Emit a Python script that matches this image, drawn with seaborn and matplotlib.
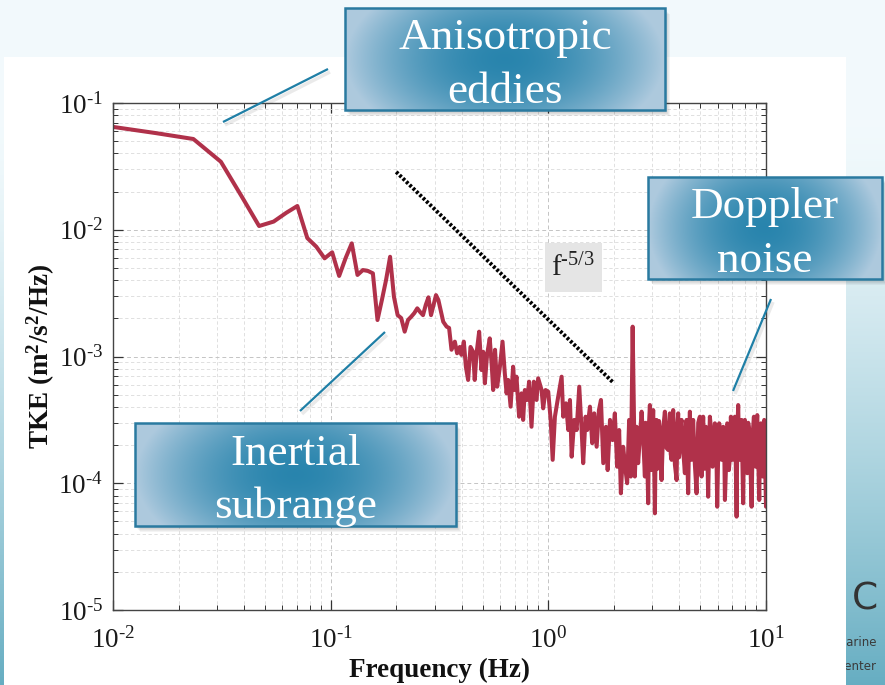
import numpy as np
import seaborn as sns
import matplotlib.pyplot as plt
from matplotlib.patches import Rectangle
from matplotlib.ticker import NullFormatter, FuncFormatter

sns.set_theme(style="ticks")
plt.rcParams['font.family'] = ['Liberation Serif', 'DejaVu Serif']
plt.rcParams['mathtext.fontset'] = 'custom'
plt.rcParams['mathtext.rm'] = 'Liberation Serif'
plt.rcParams['mathtext.it'] = 'Liberation Serif:italic'
plt.rcParams['mathtext.bf'] = 'Liberation Serif:bold'
plt.rcParams['axes.unicode_minus'] = False

# spectrum (Hz, m^2/s^2/Hz)
# low-frequency bins, one per 1/128 Hz
freq_low = [0.0078, 0.0156, 0.0234, 0.0313, 0.0391, 0.0469, 0.0547, 0.0625, 0.0703, 0.0781,
            0.0859, 0.0938, 0.1016, 0.1094, 0.1172, 0.125, 0.1328, 0.1406, 0.1484, 0.1563,
            0.1641, 0.1719, 0.1797, 0.1875, 0.1953, 0.2031, 0.2109, 0.2188, 0.2266, 0.2344,
            0.2422, 0.25, 0.2578, 0.2656, 0.2734, 0.2813, 0.2891, 0.2969, 0.3047, 0.3125]
tke_low = [0.0689, 0.058, 0.052, 0.0344, 0.0182, 0.0107, 0.0116, 0.0136, 0.0154, 0.0086,
           0.00735, 0.00595, 0.00664, 0.00432, 0.00599, 0.00781, 0.0044, 0.00481, 0.00473, 0.00453,
           0.00194, 0.00279, 0.00402, 0.00612, 0.00296, 0.00212, 0.00201, 0.00157, 0.00194, 0.00206,
           0.0022, 0.0024, 0.00224, 0.00212, 0.00255, 0.00293, 0.00212, 0.00255, 0.00305, 0.00279]

# inertial range, peaks and troughs
freq_mid = [0.329, 0.341, 0.350, 0.359, 0.372, 0.381, 0.392, 0.399, 0.409, 0.418,
            0.428, 0.439, 0.451, 0.459, 0.468, 0.481, 0.493, 0.502, 0.511, 0.523,
            0.538, 0.550, 0.558, 0.569, 0.582, 0.599, 0.616, 0.631, 0.643, 0.654,
            0.671, 0.689, 0.701, 0.714, 0.734, 0.753, 0.766, 0.780, 0.799, 0.816,
            0.837, 0.858, 0.883,
            0.898, 0.931, 0.947, 0.971, 0.999, 1.025, 1.047, 1.072, 1.110, 1.151,
            1.171, 1.205, 1.235, 1.257, 1.280, 1.315, 1.349, 1.387, 1.422, 1.446,
            1.483, 1.509, 1.553, 1.591, 1.625, 1.667, 1.708, 1.745, 1.788, 1.840,
            1.873, 1.920, 1.973, 2.021, 2.071, 2.115, 2.154, 2.207, 2.263, 2.302,
            2.351, 2.394, 2.44, 2.497, 2.543, 2.586]
tke_mid = [1.88e-3, 1.72e-3, 1.68e-3, 1.13e-3, 1.31e-3, 1.06e-3, 1.19e-3, 1.03e-3, 1.31e-3, 8.31e-4,
           6.53e-4, 1.19e-3, 1.09e-3, 6.53e-4, 1.06e-3, 1.57e-3, 7.82e-4, 1.09e-3, 6.14e-4, 1.03e-3,
           1.39e-3, 8.31e-4, 5.44e-4, 1.13e-3, 5.78e-4, 8.31e-4, 1.31e-3, 7.37e-4, 5.12e-4, 6.53e-4,
           4.02e-4, 8.31e-4, 5.44e-4, 6.93e-4, 3.35e-4, 5.12e-4, 3.16e-4, 5.44e-4, 4.54e-4, 6.33e-4,
           2.79e-4, 6.33e-4, 4.54e-4,
           6.73e-4, 5.44e-4, 3.90e-4, 5.44e-4, 5.27e-4, 3.16e-4, 1.53e-4, 3.35e-4, 4.82e-4, 6.93e-4,
           3.35e-4, 4.27e-4, 2.63e-4, 4.54e-4, 1.62e-4, 3.16e-4, 2.63e-4, 5.78e-4, 2.63e-4, 1.44e-4,
           3.35e-4, 2.63e-4, 4.02e-4, 2.07e-4, 3.56e-4, 1.94e-4, 3.78e-4, 4.54e-4, 1.44e-4, 2.79e-4,
           1.27e-4, 3.16e-4, 2.19e-4, 3.56e-4, 1.35e-4, 2.63e-4, 8.33e-5, 1.94e-4, 1.27e-4, 1.00e-4,
           3.16e-4, 1.13e-4, 1.72e-3, 1.13e-4, 2.79e-4, 1.44e-4]

# noise floor: spike tips and troughs
freq_noise = [2.682, 2.777, 2.828, 2.876, 2.928, 2.981, 3.032, 3.087, 3.143, 3.197,
              3.254, 3.313, 3.431, 3.553, 3.617, 3.683, 3.746, 3.884, 3.949, 4.021,
              4.094, 4.240, 4.317, 4.390, 4.470, 4.551, 4.628, 4.798, 4.968, 5.058,
              5.145, 5.294, 5.424, 5.522, 5.683, 5.822, 5.968, 6.096, 6.253, 6.359,
              6.475, 6.634, 6.754, 6.897, 7.022, 7.195, 7.326, 7.451, 7.585, 7.723,
              7.854, 8.0, 8.197, 8.373, 8.587, 8.799, 8.968, 9.115, 9.311, 9.479,
              9.650, 9.815, 10.0]
tke_noise = [3.67e-4, 1.13e-4, 2.63e-4, 6.95e-5, 4.14e-4, 1.27e-4, 3.78e-4, 5.79e-5, 3.16e-4, 1.53e-4,
             2.48e-4, 1.06e-4, 3.67e-4, 1.83e-4, 3.56e-4, 1.53e-4, 3.78e-4, 1.06e-4, 3.56e-4, 1.94e-4,
             3.16e-4, 1.20e-4, 3.16e-4, 8.33e-5, 3.67e-4, 1.53e-4, 3.16e-4, 8.33e-5, 3.35e-4, 1.13e-4,
             3.35e-4, 2.79e-4, 7.83e-5, 3.35e-4, 1.35e-4, 2.97e-4, 6.53e-5, 2.97e-4, 1.53e-4, 2.79e-4,
             7.38e-5, 2.97e-4, 1.27e-4, 3.35e-4, 1.53e-4, 3.35e-4, 5.45e-5, 4.14e-4, 1.53e-4, 3.16e-4,
             6.95e-5, 3.16e-4, 1.20e-4, 2.63e-4, 6.53e-5, 3.35e-4, 1.35e-4, 3.45e-4, 7.38e-5, 2.97e-4,
             1.13e-4, 3.16e-4, 6.53e-5]

# noise floor: bins in between, estimated from the solid band
freq_fill = [2.73, 2.80, 2.85, 2.90, 2.955, 3.006, 3.06, 3.115, 3.17, 3.225,
             3.283, 3.37, 3.49, 3.585, 3.65, 3.715, 3.815, 3.915, 3.985, 4.057,
             4.167, 4.278, 4.353, 4.43, 4.51, 4.59, 4.713, 4.883, 5.013, 5.10,
             5.22, 5.36, 5.473, 5.60, 5.752, 5.895, 6.032, 6.175, 6.306, 6.417,
             6.555, 6.694, 6.825, 6.96, 7.108, 7.26, 7.388, 7.518, 7.654, 7.788,
             7.927, 8.10, 8.285, 8.48, 8.693, 8.883, 9.04, 9.213, 9.395, 9.565,
             9.732, 9.907]
tke_fill = [2.2e-4, 3.0e-4, 1.4e-4, 2.9e-4, 2.0e-4, 2.6e-4, 1.6e-4, 2.4e-4, 1.3e-4, 3.1e-4,
            1.5e-4, 2.7e-4, 1.9e-4, 2.8e-4, 1.7e-4, 2.5e-4, 1.4e-4, 2.8e-4, 1.6e-4, 2.9e-4,
            1.8e-4, 2.7e-4, 1.5e-4, 2.3e-4, 1.9e-4, 2.6e-4, 1.4e-4, 3.0e-4, 1.6e-4, 2.2e-4,
            1.3e-4, 2.4e-4, 1.8e-4, 2.6e-4, 1.5e-4, 2.8e-4, 1.7e-4, 2.1e-4, 1.9e-4, 2.5e-4,
            1.4e-4, 2.9e-4, 1.6e-4, 2.3e-4, 2.7e-4, 1.5e-4, 2.6e-4, 1.9e-4, 2.4e-4, 1.5e-4,
            2.8e-4, 1.7e-4, 3.0e-4, 1.4e-4, 2.5e-4, 2.0e-4, 2.7e-4, 1.6e-4, 2.4e-4, 1.8e-4,
            2.2e-4, 1.5e-4]

freq = freq_low + freq_mid + freq_noise + freq_fill
tke = tke_low + tke_mid + tke_noise + tke_fill

# -5/3 reference slope
slope_freq = [0.2, 2.0]
slope_tke = [0.0286, 0.000616]

notes = ['Anisotropic\neddies', 'Doppler\nnoise', 'Inertial\nsubrange']

W, H = 885, 685
fig = plt.figure(figsize=(W / 100, H / 100), dpi=100)


def rect(x0, y0, x1, y1):
    return [x0 / W, 1 - y1 / H, (x1 - x0) / W, (y1 - y0) / H]


def sci(v, pos):
    e = int(round(np.log10(v)))
    if e < 0:
        return r'$\mathregular{10^{\text{-}%d}}$' % -e
    return r'$\mathregular{10^{%d}}$' % e


# slide background behind the chart
bg = fig.add_axes([0, 0, 1, 1], zorder=-2)
bg.set_axis_off()
yy, xx = np.mgrid[0:H, 0:W]
t = (np.clip((yy - 120) / 565, 0, 1) ** 1.4)[..., None]
pale = np.array([0.95, 0.98, 0.99])
teal = np.array([0.40, 0.68, 0.76])
bg.imshow(pale * (1 - t) + teal * t, extent=[0, W, H, 0], aspect='auto')
for x, y, word in [(877, 643, 'Marine'), (876, 666, 'Center')]:
    bg.text(x, y, word, ha='right', va='center', fontsize=8.5,
            family='DejaVu Sans', color='#3a3a3a', zorder=2)
bg.add_patch(Rectangle((4, 57), 842, 640, color='white', lw=0, zorder=3))
bg.text(865, 600, 'C', ha='center', va='center', fontsize=27,
        family='DejaVu Sans', color='#333333', zorder=4)
bg.set_xlim(0, W)
bg.set_ylim(H, 0)

# spectrum
ax = fig.add_axes(rect(113, 103, 766, 610), zorder=1)
ax.set(xscale='log', yscale='log')
ax.grid(True, which='major', ls=(0, (4, 3)), color='#c4c4c4', lw=0.7)
ax.grid(True, which='minor', ls=(0, (4, 3)), color='#dadada', lw=0.6)
sns.lineplot(x=freq, y=tke, ax=ax, color='#b0314a', linewidth=2.9)
ax.plot(slope_freq, slope_tke, color='black', lw=2.8, ls=(0, (0.7, 0.5)),
        dash_capstyle='butt')
ax.set_xlim(1e-2, 10)
ax.set_ylim(1e-5, 1e-1)
ax.xaxis.set_major_formatter(FuncFormatter(sci))
ax.yaxis.set_major_formatter(FuncFormatter(sci))
ax.xaxis.set_minor_formatter(NullFormatter())
ax.yaxis.set_minor_formatter(NullFormatter())
ax.tick_params(which='both', direction='in', top=True, right=True,
               color='#333333', labelsize=19.5, labelcolor='#1a1a1a')
ax.tick_params(which='major', length=7, width=0.9)
ax.tick_params(which='minor', length=3.5, width=0.7)
ax.tick_params(axis='x', pad=12)
ax.tick_params(axis='y', pad=7)
for s in ax.spines.values():
    s.set_color('#444444')
    s.set_linewidth(1)
ax.set_xlabel('Frequency (Hz)', fontsize=19.5, fontweight='bold', color='#111111')
ax.set_ylabel(r'TKE (m$\mathbf{^2}$/s$\mathbf{^2}$/Hz)', fontsize=19.5,
              fontweight='bold', color='#111111')
ax.xaxis.set_label_coords(0.5, -0.095)
ax.yaxis.set_label_coords(-0.085, 0.5)

# overlay in pixel coordinates: callout boxes, connectors, slope label
ov = fig.add_axes([0, 0, 1, 1], zorder=5)
ov.set_axis_off()

ov.add_patch(Rectangle((545, 243), 57, 49, color='#e5e5e5', lw=0))
ov.text(573, 268, r'$\mathregular{f^{\text{-}5/3}}$', ha='center', va='center',
        fontsize=21, color='#222222')

u = np.linspace(-1, 1, 240)[None, :]
v = np.linspace(-1, 1, 80)[:, None]
r = (np.clip(np.sqrt(u ** 2 + 0.3 * v ** 2), 0, 1) ** 1.8)[..., None]
dark = np.array([0.16, 0.52, 0.68])
light = np.array([0.68, 0.79, 0.87])
grad = dark * (1 - r) + light * r

boxes = [(345, 8, 665, 110), (648, 177, 882, 279), (135, 423, 456, 526)]
for (x0, y0, x1, y1), label in zip(boxes, notes):
    for k in range(1, 6):
        ov.add_patch(Rectangle((x0 + k, y0 + k + 1), x1 - x0, y1 - y0,
                               color='black', alpha=0.045, lw=0, zorder=1))
    ov.imshow(grad, extent=[x0, x1, y1, y0], aspect='auto',
              interpolation='bilinear', zorder=2)
    ov.add_patch(Rectangle((x0, y0), x1 - x0, y1 - y0, fill=False,
                           ec='#2a7aa0', lw=1.8, zorder=3))
    ov.text((x0 + x1) / 2, (y0 + y1) / 2 + 6, label, ha='center', va='center',
            fontsize=32.5, color='white', linespacing=1.42, zorder=4)

links = [((223, 328), (122, 69)), ((300, 385), (411, 332)), ((733, 771), (391, 299))]
for lx, ly in links:
    ov.plot([p + 2 for p in lx], [p + 3 for p in ly], color='#555555',
            alpha=0.12, lw=2.5, solid_capstyle='butt', zorder=1)
    ov.plot(lx, ly, color='#1f7fa6', lw=1.6, solid_capstyle='butt', zorder=5)

ov.set_xlim(0, W)
ov.set_ylim(H, 0)

fig.savefig('out.png', dpi=100)
